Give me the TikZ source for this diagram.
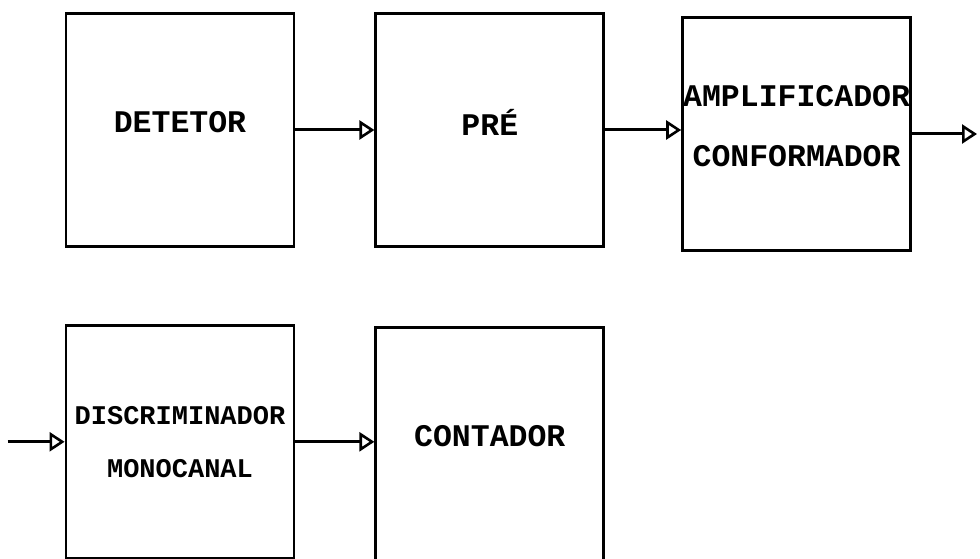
\documentclass[tikz,border=0pt]{standalone}
\usepackage{fontspec}
\usetikzlibrary{arrows.meta,positioning}
\newfontfamily\typewriter{Liberation Mono}

\begin{document}
\begin{tikzpicture}[
  x=1pt, y=1pt,
  node distance=76pt and 79pt,
  block/.style={draw, line width=2.8pt, minimum width=228pt,
                minimum height=233pt, inner sep=0pt, align=center,
                text depth=16pt,
                font=\typewriter\bfseries\fontsize{31.5}{60}\selectfont},
  flow/.style={-{Triangle[open, length=15pt, width=19pt, line width=2.6pt]},
               line width=3pt}
]
\useasboundingbox (0,0) rectangle (980,-559);

\node[block] at (180,-130) (detetor) {DETETOR};
\node[block, right=of detetor] (pre) {PRÉ};
\node[block, right=76pt of pre, yshift=-4pt] (ampl) {AMPLIFICADOR\\CONFORMADOR};
\node[block, below=of detetor, text depth=0pt,
      font=\typewriter\bfseries\fontsize{27}{53}\selectfont] (discrim)
  {DISCRIMINADOR\\MONOCANAL};
\node[block, right=of discrim, yshift=-2pt] (contador) {CONTADOR};

\coordinate[right=65pt of ampl.east] (saida);
\coordinate[left=57pt of discrim.west] (entrada);

\draw[flow] (detetor.east) -- (detetor.east -| pre.west);
\draw[flow] (pre.east) -- (pre.east -| ampl.west);
\draw[flow] (ampl.east) -- (saida);
\draw[flow] (entrada) -- (discrim.west);
\draw[flow] (discrim.east) -- (discrim.east -| contador.west);
\end{tikzpicture}
\end{document}
